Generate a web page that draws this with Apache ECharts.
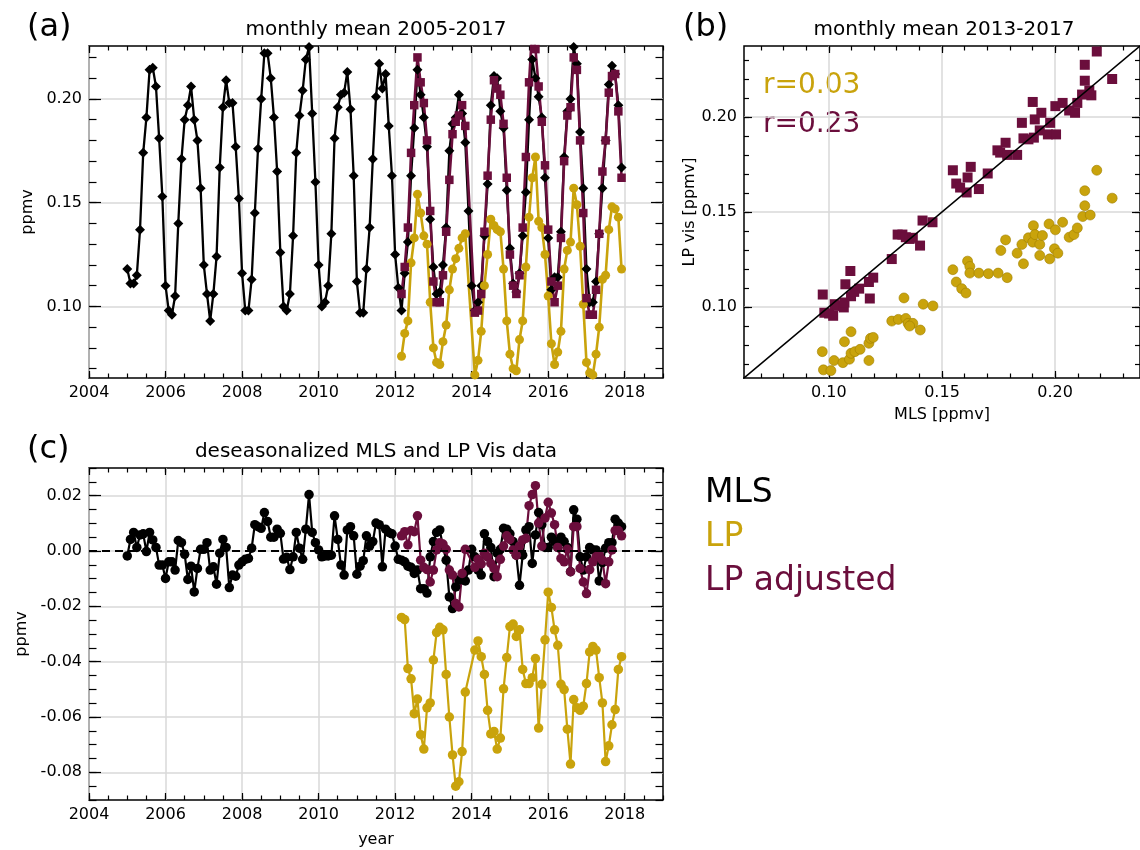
<!DOCTYPE html>
<html>
<head>
<meta charset="utf-8">
<title>MLS and LP Vis</title>
<script src="https://cdn.jsdelivr.net/npm/echarts@6/dist/echarts.min.js"></script>
<style>
  html, body { margin: 0; background: #fff; }
  #chart { width: 1140px; height: 850px; }
</style>
</head>
<body>
<div id="chart"></div>
<script>
const FONT = "DejaVu Sans";
const BLACK = "#000000";
const LP_COLOR = "#c9a30c";
const ADJ_COLOR = "#6b0e3c";

// monthly means, MLS 2005-2017 (Jan..Dec per row)
const mlsMonthly = [
    0.118, 0.111, 0.111, 0.115, 0.137, 0.174, 0.191, 0.214, 0.215, 0.206, 0.181, 0.153,
    0.110, 0.098, 0.096, 0.105, 0.140, 0.171, 0.190, 0.197, 0.206, 0.190, 0.180, 0.157,
    0.120, 0.106, 0.093, 0.106, 0.124, 0.167, 0.196, 0.209, 0.198, 0.198, 0.177, 0.152,
    0.116, 0.098, 0.098, 0.113, 0.145, 0.176, 0.200, 0.222, 0.222, 0.210, 0.191, 0.165,
    0.126, 0.100, 0.098, 0.106, 0.134, 0.174, 0.192, 0.204, 0.219, 0.225, 0.193, 0.160,
    0.120, 0.100, 0.102, 0.110, 0.135, 0.181, 0.196, 0.202, 0.203, 0.213, 0.195, 0.163,
    0.112, 0.097, 0.097, 0.118, 0.138, 0.171, 0.201, 0.217, 0.205, 0.212, 0.187, 0.163,
    0.125, 0.109, 0.098, 0.116, 0.131, 0.163, 0.186, 0.214, 0.202, 0.191, 0.177, 0.142,
    0.119, 0.106, 0.107, 0.120, 0.138, 0.175, 0.188, 0.191, 0.202, 0.193, 0.179, 0.146,
    0.110, 0.098, 0.102, 0.110, 0.134, 0.159, 0.197, 0.211, 0.210, 0.194, 0.186, 0.156,
    0.128, 0.111, 0.107, 0.116, 0.134, 0.155, 0.190, 0.219, 0.210, 0.201, 0.191, 0.162,
    0.133, 0.108, 0.114, 0.114, 0.136, 0.172, 0.194, 0.200, 0.225, 0.217, 0.184, 0.157,
    0.118, 0.102, 0.102, 0.112, 0.135, 0.157, 0.180, 0.207, 0.216, 0.212, 0.197, 0.167
];

// LP monthly means 2012-2017, null = no data
const lpMonthly = [
    null, null, 0.076, 0.087, 0.093, 0.121, 0.133, 0.154, 0.145, 0.134, 0.130, 0.102,
    0.080, 0.073, 0.072, 0.083, 0.091, 0.108, 0.118, 0.123, 0.128, 0.133, 0.135, null,
    null, 0.067, 0.074, 0.088, 0.110, 0.125, 0.142, 0.139, 0.137, 0.136, 0.118, 0.093,
    0.077, 0.070, 0.069, 0.084, 0.093, 0.119, 0.143, 0.162, 0.172, 0.141, 0.138, 0.125,
    0.105, 0.082, 0.072, 0.078, 0.088, 0.118, 0.127, 0.131, 0.157, 0.149, 0.129, 0.101,
    0.073, 0.068, 0.067, 0.077, 0.090, 0.113, 0.115, 0.137, 0.148, 0.147, 0.143, 0.118
];

const lpAdjMonthly = [
    null, null, 0.106, 0.119, 0.138, 0.174, 0.197, 0.220, 0.208, 0.198, 0.180, 0.146,
    0.112, 0.102, 0.102, 0.115, 0.136, 0.161, 0.183, 0.189, 0.192, 0.197, 0.187, null,
    null, 0.097, 0.098, 0.106, 0.136, 0.163, 0.190, 0.209, 0.205, 0.202, 0.188, 0.162,
    0.125, 0.110, 0.106, 0.115, 0.138, 0.172, 0.208, 0.234, 0.224, 0.206, 0.189, 0.168,
    0.137, 0.112, 0.102, 0.110, 0.133, 0.170, 0.192, 0.196, 0.220, 0.214, 0.180, 0.145,
    0.104, 0.096, 0.096, 0.108, 0.135, 0.165, 0.180, 0.203, 0.211, 0.212, 0.194, 0.162
];

// deseasonalized anomalies
const mlsDeseason = [
    -0.0018, 0.0042, 0.0067, 0.0013, 0.0058, 0.0062, -0.0002, 0.0067, 0.0040, 0.0013, -0.0051, -0.0051,
    -0.0099, -0.0039, -0.0039, -0.0069, 0.0038, 0.0030, -0.0012, -0.0103, -0.0055, -0.0148, -0.0063, 0.0006,
    0.0006, 0.0030, -0.0069, -0.0057, -0.0120, -0.0008, 0.0042, 0.0013, -0.0132, -0.0087, -0.0091, -0.0051,
    -0.0039, -0.0030, -0.0027, 0.0010, 0.0095, 0.0088, 0.0082, 0.0139, 0.0107, 0.0050, 0.0050, 0.0079,
    0.0064, -0.0029, -0.0023, -0.0067, -0.0021, 0.0067, 0.0010, -0.0030, 0.0079, 0.0204, 0.0067, 0.0030,
    0.0004, -0.0021, -0.0018, -0.0018, -0.0015, 0.0127, 0.0042, -0.0051, -0.0087, 0.0076, 0.0088, 0.0055,
    -0.0084, -0.0055, -0.0035, 0.0055, 0.0018, 0.0034, 0.0101, 0.0095, -0.0057, 0.0079, 0.0067, 0.0062,
    0.0018, -0.0030, -0.0033, -0.0039, -0.0055, -0.0059, -0.0081, -0.0069, -0.0136, -0.0136, -0.0152, -0.0021,
    0.0034, 0.0067, 0.0076, 0.0016, -0.0033, -0.0166, -0.0208, -0.0130, -0.0105, -0.0093, -0.0108, -0.0069,
    0.0006, -0.0021, -0.0069, -0.0087, 0.0062, 0.0034, 0.0013, -0.0093, -0.0008, 0.0006, 0.0082, 0.0079,
    0.0062, 0.0034, -0.0015, -0.0124, -0.0015, 0.0076, 0.0088, -0.0045, 0.0058, 0.0139, 0.0095, 0.0013,
    0.0013, 0.0050, 0.0034, 0.0013, 0.0050, 0.0034, 0.0013, -0.0075, 0.0149, 0.0115, -0.0021, -0.0069,
    -0.0021, 0.0013, 0.0004, 0.0004, -0.0108, -0.0042, 0.0010, 0.0030, 0.0030, 0.0115, 0.0101, 0.0088
];

const lpDeseason = [
    null, null, -0.0240, -0.0248, -0.0425, -0.0462, -0.0588, -0.0535, -0.0664, -0.0716, -0.0567, -0.0549,
    -0.0394, -0.0295, -0.0276, -0.0285, -0.0446, -0.0600, -0.0737, -0.0850, -0.0834, -0.0725, -0.0510, null,
    null, -0.0358, -0.0325, -0.0382, -0.0446, -0.0576, -0.0661, -0.0652, -0.0716, -0.0676, -0.0498, -0.0385,
    -0.0273, -0.0264, -0.0309, -0.0285, -0.0428, -0.0479, -0.0479, -0.0458, -0.0389, -0.0640, -0.0482, -0.0321,
    -0.0149, -0.0204, -0.0285, -0.0341, -0.0482, -0.0501, -0.0644, -0.0770, -0.0537, -0.0567, -0.0576, -0.0561,
    -0.0479, -0.0365, -0.0345, -0.0358, -0.0458, -0.0549, -0.0761, -0.0704, -0.0628, -0.0573, -0.0428, -0.0382
];

const lpAdjDeseason = [
    null, null, 0.0055, 0.0070, 0.0022, 0.0074, 0.0070, 0.0127, -0.0033, -0.0059, -0.0067, -0.0112,
    -0.0069, 0.0004, 0.0030, 0.0025, 0.0006, -0.0069, -0.0087, -0.0190, -0.0202, -0.0081, 0.0006, null,
    null, -0.0059, -0.0030, -0.0047, -0.0008, -0.0021, -0.0045, -0.0063, -0.0093, -0.0030, 0.0018, 0.0055,
    0.0042, 0.0004, -0.0015, 0.0018, 0.0040, 0.0046, 0.0164, 0.0204, 0.0236, 0.0101, 0.0018, 0.0119,
    0.0176, 0.0137, 0.0095, 0.0013, -0.0027, -0.0039, 0.0006, -0.0075, 0.0088, 0.0088, -0.0063, -0.0112,
    -0.0154, -0.0067, -0.0039, -0.0021, -0.0015, -0.0033, -0.0118, -0.0039, 0.0004, 0.0074, 0.0074, 0.0055
];

// scatter 2013-2017: [MLS, LP adjusted] and [MLS, LP]
const scatterAdj = [
    [0.0973, 0.1065], [0.0980, 0.0969], [0.1001, 0.0965], [0.1019, 0.0953], [0.1026, 0.1014],
    [0.1040, 0.1005], [0.1066, 0.0997], [0.1069, 0.1023], [0.1073, 0.1119], [0.1095, 0.1189],
    [0.1098, 0.1056], [0.1112, 0.1079], [0.1134, 0.1096], [0.1177, 0.1131], [0.1181, 0.1044],
    [0.1196, 0.1154], [0.1278, 0.1252], [0.1304, 0.1381], [0.1325, 0.1381], [0.1340, 0.1367],
    [0.1357, 0.1358], [0.1371, 0.1364], [0.1403, 0.1323], [0.1414, 0.1455], [0.1458, 0.1446],
    [0.1548, 0.1720], [0.1563, 0.1650], [0.1580, 0.1629], [0.1609, 0.1603], [0.1613, 0.1682],
    [0.1627, 0.1738], [0.1663, 0.1621], [0.1702, 0.1703], [0.1745, 0.1825], [0.1757, 0.1813],
    [0.1781, 0.1865], [0.1788, 0.1801], [0.1832, 0.1801], [0.1853, 0.1970], [0.1860, 0.1888],
    [0.1882, 0.1883], [0.1901, 0.2080], [0.1906, 0.1892], [0.1910, 0.1988], [0.1939, 0.2023],
    [0.1932, 0.1930], [0.1968, 0.1909], [0.1978, 0.1970], [0.2004, 0.1909], [0.2001, 0.2058],
    [0.2033, 0.2075], [0.2062, 0.2035], [0.2088, 0.2023], [0.2098, 0.2075], [0.2119, 0.2119],
    [0.2131, 0.2192], [0.2131, 0.2276], [0.2151, 0.2140], [0.2160, 0.2115], [0.2184, 0.2346],
    [0.2252, 0.2201]
];

const scatterLp = [
    [0.0971, 0.0764], [0.0976, 0.0668], [0.1009, 0.0664], [0.1023, 0.0717], [0.1062, 0.0706],
    [0.1069, 0.0816], [0.1091, 0.0724], [0.1098, 0.0869], [0.1098, 0.0755], [0.1115, 0.0764],
    [0.1138, 0.0776], [0.1177, 0.0717], [0.1177, 0.0808], [0.1184, 0.0834], [0.1196, 0.0839],
    [0.1278, 0.0925], [0.1307, 0.0934], [0.1332, 0.1047], [0.1340, 0.0939], [0.1350, 0.0913],
    [0.1371, 0.0913], [0.1357, 0.0899], [0.1404, 0.0878], [0.1417, 0.1014], [0.1460, 0.1005],
    [0.1548, 0.1196], [0.1563, 0.1131], [0.1587, 0.1096], [0.1606, 0.1073], [0.1613, 0.1241],
    [0.1623, 0.1213], [0.1623, 0.1178], [0.1663, 0.1178], [0.1705, 0.1175], [0.1748, 0.1178],
    [0.1760, 0.1297], [0.1781, 0.1353], [0.1788, 0.1154], [0.1832, 0.1283], [0.1853, 0.1329],
    [0.1860, 0.1227], [0.1882, 0.1364], [0.1904, 0.1428], [0.1901, 0.1341], [0.1911, 0.1381],
    [0.1932, 0.1329], [0.1932, 0.1271], [0.1944, 0.1376], [0.1973, 0.1437], [0.1976, 0.1253],
    [0.2001, 0.1406], [0.1997, 0.1306], [0.2012, 0.1283], [0.2033, 0.1446], [0.2062, 0.1367],
    [0.2083, 0.1381], [0.2098, 0.1416], [0.2122, 0.1476], [0.2131, 0.1533], [0.2131, 0.1612],
    [0.2155, 0.1484], [0.2184, 0.1720], [0.2252, 0.1573]
];

const oneToOne = [0.06, 0.24];

// axis ranges and tick labels
const yearRange = [2004, 2019];
const yearTicks = [2004, 2006, 2008, 2010, 2012, 2014, 2016, 2018];
const meanRange = [0.0655, 0.2255];
const scatterRange = [0.0625, 0.2375];
const ppmvTicks = [0.10, 0.15, 0.20];
const anomRange = [-0.09, 0.03];
const anomTicks = [-0.08, -0.06, -0.04, -0.02, 0.00, 0.02];

function steps(from, to, step) {
    let out = [];
    for (let v = from; v <= to + step / 2; v += step) {
        out.push(Math.round(v * 10000) / 10000);
    }
    return out;
}

function toPairs(values, startYear) {
    let out = [];
    values.forEach(function (v, i) {
        if (v !== null) out.push([startYear + i / 12, v]);
    });
    return out;
}

const labelStyle = { color: BLACK, fontFamily: FONT, fontSize: 16 };

// four axes per dimension: major + minor ticks on both sides of the box
function frameAxes(dim, gridIndex, range, major, minor, tickLen, fmt, extra) {
    let sides = dim === "x" ? ["bottom", "top"] : ["left", "right"];
    let axes = [];
    sides.forEach(function (pos, s) {
        [major, minor].forEach(function (vals, m) {
            let primary = s === 0 && m === 0;
            let axis = {
                type: "value",
                gridIndex,
                position: pos,
                min: range[0],
                max: range[1],
                axisLine: { show: false, onZero: false },
                axisTick: {
                    show: true,
                    inside: true,
                    length: tickLen[m],
                    customValues: vals,
                    lineStyle: { color: BLACK, width: 1.2 },
                },
                axisLabel: {
                    show: primary,
                    customValues: major,
                    margin: 7,
                    formatter: fmt,
                    ...labelStyle,
                },
                splitLine: {
                    show: primary,
                    lineStyle: { color: "#d9d9d9", width: 1.5 },
                },
            };
            if (primary && extra) Object.assign(axis, extra);
            axes.push(axis);
        });
    });
    return axes;
}

const yearFmt = function (v) { return String(Math.round(v)); };
const ppmvFmt = function (v) { return v.toFixed(2); };

function axisName(text, gap) {
    return {
        name: text,
        nameLocation: "middle",
        nameGap: gap,
        nameTextStyle: { color: BLACK, fontFamily: FONT, fontSize: 16 },
    };
}

const xAxes = []
    .concat(frameAxes("x", 0, yearRange, yearTicks, steps(2004, 2019, 0.5), [7, 4.5], yearFmt))
    .concat(frameAxes("x", 1, scatterRange, ppmvTicks, steps(0.07, 0.23, 0.01), [7, 4.5], ppmvFmt, axisName("MLS [ppmv]", 29)))
    .concat(frameAxes("x", 2, yearRange, yearTicks, steps(2004, 2019, 0.5), [7, 4.5], yearFmt, axisName("year", 32)));

const yAxes = []
    .concat(frameAxes("y", 0, meanRange, ppmvTicks, steps(0.07, 0.22, 0.01), [12, 7.5], ppmvFmt, axisName("ppmv", 47)))
    .concat(frameAxes("y", 1, scatterRange, ppmvTicks, steps(0.07, 0.23, 0.01), [8, 5], ppmvFmt, axisName("LP vis [ppmv]", 46)))
    .concat(frameAxes("y", 2, anomRange, anomTicks, steps(-0.09, 0.03, 0.005), [12, 7.5], ppmvFmt, axisName("ppmv", 47)));

function lineSeries(grid, data, color, symbol, size, width, extra) {
    return Object.assign({
        type: "line",
        xAxisIndex: grid * 4,
        yAxisIndex: grid * 4,
        data,
        symbol,
        symbolSize: size,
        showAllSymbol: true,
        lineStyle: { color, width },
        itemStyle: { color },
    }, extra || {});
}

function label(text, x, y, size, color, align) {
    return {
        type: "text",
        x,
        y,
        style: {
            text,
            font: size + 'px "' + FONT + '"',
            fill: color,
            align: align || "left",
            verticalAlign: "middle",
        },
    };
}

let chart = echarts.init(document.getElementById("chart"));

let option = {
    animation: false,
    backgroundColor: "#ffffff",
    grid: [
        { left: 89, top: 46, width: 574, height: 332, show: true, borderColor: BLACK, borderWidth: 1.5 },
        { left: 744, top: 46, width: 406, height: 332, show: true, borderColor: BLACK, borderWidth: 1.5 },
        { left: 89, top: 468, width: 574, height: 332, show: true, borderColor: BLACK, borderWidth: 1.5 },
    ],
    xAxis: xAxes,
    yAxis: yAxes,
    series: [
        // (a)
        lineSeries(0, toPairs(mlsMonthly, 2005), BLACK, "diamond", 10, 2.3),
        lineSeries(0, toPairs(lpMonthly, 2012), LP_COLOR, "circle", 9, 2.6),
        lineSeries(0, toPairs(lpAdjMonthly, 2012), ADJ_COLOR, "rect", 8.5, 2.6),
        // (b)
        {
            type: "scatter",
            xAxisIndex: 4,
            yAxisIndex: 4,
            data: scatterAdj,
            symbol: "rect",
            symbolSize: 10,
            itemStyle: { color: ADJ_COLOR, opacity: 1 },
        },
        {
            type: "scatter",
            xAxisIndex: 4,
            yAxisIndex: 4,
            data: scatterLp,
            symbol: "circle",
            symbolSize: 10,
            itemStyle: { color: LP_COLOR, opacity: 1, borderColor: "#a08000", borderWidth: 0.6 },
        },
        lineSeries(1, oneToOne.map(function (v) { return [v, v]; }), BLACK, "none", 0, 1.5),
        // (c)
        lineSeries(2, toPairs(mlsDeseason, 2005), BLACK, "circle", 9.5, 2.2, {
            markLine: {
                silent: true,
                symbol: "none",
                label: { show: false },
                lineStyle: { color: BLACK, width: 2, type: [8, 5] },
                data: [{ yAxis: 0 }],
            },
        }),
        lineSeries(2, toPairs(lpDeseason, 2012), LP_COLOR, "circle", 9.5, 2.2),
        lineSeries(2, toPairs(lpAdjDeseason, 2012), ADJ_COLOR, "circle", 9.5, 2.2),
    ],
    graphic: [
        label("(a)", 27, 28, 32, BLACK),
        label("monthly mean 2005-2017", 376, 30, 20, BLACK, "center"),
        label("(b)", 683, 28, 32, BLACK),
        label("monthly mean 2013-2017", 944, 30, 20, BLACK, "center"),
        label("r=0.03", 763, 86, 28, LP_COLOR),
        label("r=0.23", 763, 125, 28, ADJ_COLOR),
        label("(c)", 27, 450, 32, BLACK),
        label("deseasonalized MLS and LP Vis data", 376, 452, 20, BLACK, "center"),
        label("MLS", 705, 493, 33, BLACK),
        label("LP", 705, 537, 33, LP_COLOR),
        label("LP adjusted", 705, 581, 33, ADJ_COLOR),
    ],
};

option && chart.setOption(option);
</script>
</body>
</html>
